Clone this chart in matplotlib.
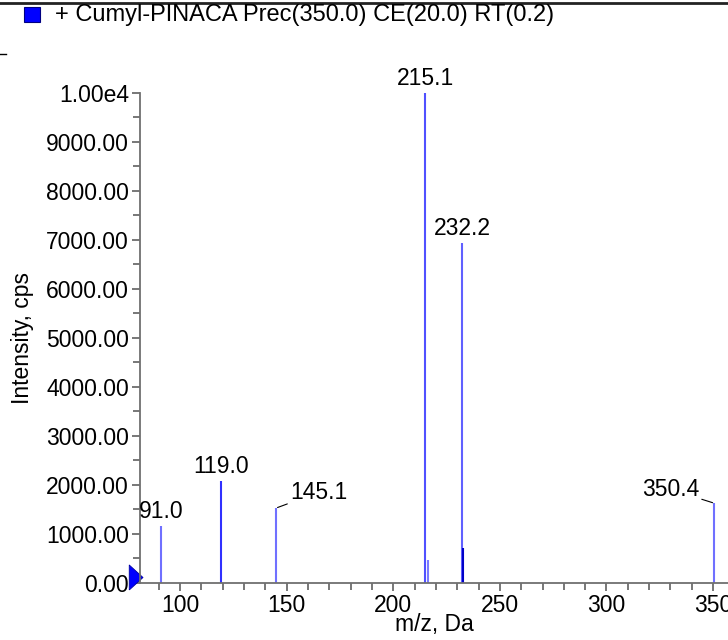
import numpy as np
import matplotlib.pyplot as plt
from matplotlib.ticker import MultipleLocator, FixedLocator

plt.rcParams['font.family'] = ['Liberation Sans', 'DejaVu Sans']

# peaks
mz = [91.0, 119.0, 145.1, 215.1, 216.4, 232.2, 232.9, 350.4]
intensity = [1160, 2080, 1530, 10000, 470, 6940, 715, 1630]
peak_colors = ['#7070ff', '#3030ff', '#7070ff', '#5050ff', '#7a7aff', '#6060ff', '#0000c8', '#7070ff']

# labelled peaks
lab_mz = [91.0, 119.0, 145.1, 215.1, 232.2, 350.4]
lab_int = [1160, 2080, 1530, 10000, 6940, 1630]
lab_text = ['91.0', '119.0', '145.1', '215.1', '232.2', '350.4']

ytick_vals = [0, 1000, 2000, 3000, 4000, 5000, 6000, 7000, 8000, 9000, 10000]
ytick_labels = ['0.00', '1000.00', '2000.00', '3000.00', '4000.00', '5000.00',
                '6000.00', '7000.00', '8000.00', '9000.00', '1.00e4']

FS = 16.5

fig = plt.figure(figsize=(7.28, 6.4), dpi=100)
ax = fig.add_axes([0.1923, 0.0891, 0.8077, 0.7656])

ax.vlines(mz, 0, intensity, colors=peak_colors, linewidth=1.5)

ax.set_xlim(81.2, 357)
ax.set_ylim(0, 10000)

ax.xaxis.set_major_locator(MultipleLocator(50))
ax.xaxis.set_minor_locator(MultipleLocator(10))
ax.yaxis.set_major_locator(FixedLocator(ytick_vals))
ax.set_yticklabels(ytick_labels)
ax.yaxis.set_minor_locator(MultipleLocator(500))

for s in ['top', 'right']:
    ax.spines[s].set_visible(False)
for s in ['left', 'bottom']:
    ax.spines[s].set_color('#707070')
    ax.spines[s].set_linewidth(1.3)
ax.tick_params(which='both', direction='out', color='#606060', width=1.2,
               labelsize=FS, pad=2)
ax.tick_params(which='major', length=6)
ax.tick_params(which='minor', length=5)

ax.set_xlabel('m/z, Da', fontsize=FS, labelpad=-3)
ax.set_ylabel('Intensity, cps', fontsize=FS, labelpad=9)

# peak labels
for m, h, t in zip(lab_mz, lab_int, lab_text):
    if t == '145.1':
        ax.annotate(t, xy=(m, h), xytext=(m + 6.5, h + 320), fontsize=FS,
                    ha='left', va='center',
                    arrowprops=dict(arrowstyle='-', color='black', lw=0.8,
                                    shrinkA=0, shrinkB=1))
    elif t == '350.4':
        ax.annotate(t, xy=(m, h), xytext=(m - 7, h + 280), fontsize=FS,
                    ha='right', va='center',
                    arrowprops=dict(arrowstyle='-', color='black', lw=0.8,
                                    shrinkA=0, shrinkB=1))
    else:
        ax.text(m, h + 60, t, fontsize=FS, ha='center', va='bottom')

# blue marker on the y axis at zero
tri = [(-0.5, -1), (0.6, 0), (-0.5, 1), (-0.5, -1)]
ax.plot([78.9], [120], marker=tri, color='#0000ff', markersize=18,
        clip_on=False, markeredgecolor='#0000a0', markeredgewidth=0.6)

# header: frame line, legend swatch and title
fig.add_artist(plt.Line2D([0, 1], [0.996, 0.996], color='#222222', lw=2))
fig.add_artist(plt.Rectangle((24 / 728, 1 - 22 / 640), 16 / 728, 15 / 640,
                             facecolor='#0000ff', edgecolor='#000080', lw=0.8))
fig.text(55 / 728, 1 - 15 / 640, '+ Cumyl-PINACA Prec(350.0) CE(20.0) RT(0.2)',
         fontsize=17, va='center', ha='left')
fig.add_artist(plt.Line2D([0, 6 / 728], [1 - 54 / 640, 1 - 54 / 640],
                          color='black', lw=1))

fig.savefig('out.png', dpi=100)
